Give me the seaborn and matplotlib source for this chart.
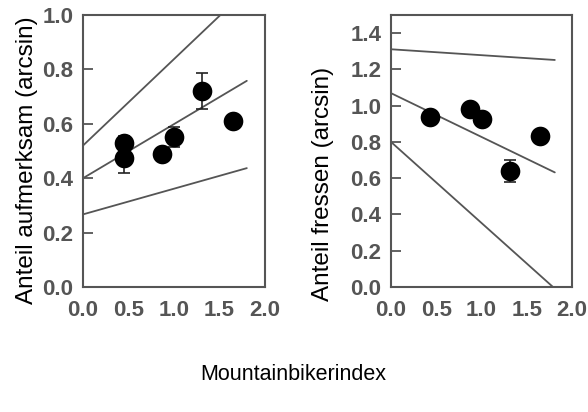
import matplotlib
matplotlib.use("Agg")
import matplotlib.pyplot as plt
import seaborn as sns

# Data
index_left = [0.45, 0.45, 0.87, 1.0, 1.31, 1.65]
attentive = [0.53, 0.475, 0.49, 0.55, 0.72, 0.61]
attentive_err = [0.025, 0.055, 0.0, 0.037, 0.067, 0.0]

index_right = [0.43, 0.87, 1.0, 1.31, 1.65]
feeding = [0.935, 0.98, 0.925, 0.64, 0.835]
feeding_err = [0.0, 0.0, 0.0, 0.06, 0.0]

# regression line and confidence band endpoints (x, y)
left_lines = [
    ([0.0, 1.51], [0.52, 1.0]),
    ([0.0, 1.8], [0.40, 0.758]),
    ([0.0, 1.8], [0.267, 0.437]),
]
right_lines = [
    ([0.0, 1.81], [1.311, 1.252]),
    ([0.0, 1.81], [1.069, 0.632]),
    ([0.0, 1.79], [0.80, 0.0]),
]

sns.set_style("white")
plt.rcParams['font.family'] = ['Liberation Sans', 'DejaVu Sans']

fig = plt.figure(figsize=(5.88, 4.12), dpi=100)
W, H = 588, 412
ax1 = fig.add_axes([83 / W, (H - 287) / H, 182 / W, 272 / H])
ax2 = fig.add_axes([391 / W, (H - 287) / H, 181 / W, 272 / H])

grey = "#555555"


def draw(ax, xs, ys, errs, lines, ylim, yticks, ylabel, label_xy):
    for lx, ly in lines:
        sns.lineplot(x=lx, y=ly, ax=ax, color=grey, linewidth=1.3)
    ax.errorbar(xs, ys, yerr=errs, fmt="none", ecolor="#222222",
                elinewidth=1.2, capsize=4.5, capthick=1.2)
    sns.scatterplot(x=xs, y=ys, ax=ax, color="black", s=200,
                    edgecolor="black", linewidth=0, zorder=3)
    ax.set_xlim(0, 2.0)
    ax.set_ylim(*ylim)
    ax.set_xticks([0.0, 0.5, 1.0, 1.5, 2.0])
    ax.set_xticklabels(["0.0", "0.5", "1.0", "1.5", "2.0"])
    ax.set_yticks(yticks)
    ax.set_yticklabels([f"{t:.1f}" for t in yticks])
    ax.tick_params(axis="y", direction="in", length=7.5, width=1.3, color=grey,
                   labelsize=16, labelcolor=grey, pad=7, left=True)
    ax.tick_params(axis="x", length=0, labelsize=16, labelcolor=grey, pad=9)
    for lab in ax.get_xticklabels() + ax.get_yticklabels():
        lab.set_fontweight("bold")
    for sp in ax.spines.values():
        sp.set_color(grey)
        sp.set_linewidth(1.5)
    ax.set_ylabel(ylabel, fontsize=17.5, color="black")
    ax.yaxis.set_label_coords(*label_xy)
    ax.yaxis.label.set_va("center")
    ax.set_xlabel("")


draw(ax1, index_left, attentive, attentive_err, left_lines, (0, 1.0),
     [0.0, 0.2, 0.4, 0.6, 0.8, 1.0], "Anteil aufmerksam (arcsin)",
     (-0.308, 0.465))
draw(ax2, index_right, feeding, feeding_err, right_lines, (0, 1.5),
     [0.0, 0.2, 0.4, 0.6, 0.8, 1.0, 1.2, 1.4], "Anteil fressen (arcsin)",
     (-0.375, 0.38))

fig.text(293 / W, 1 - 375 / H, "Mountainbikerindex", ha="center", va="center",
         fontsize=15.5, color="black")

fig.savefig("out.png", dpi=100)
